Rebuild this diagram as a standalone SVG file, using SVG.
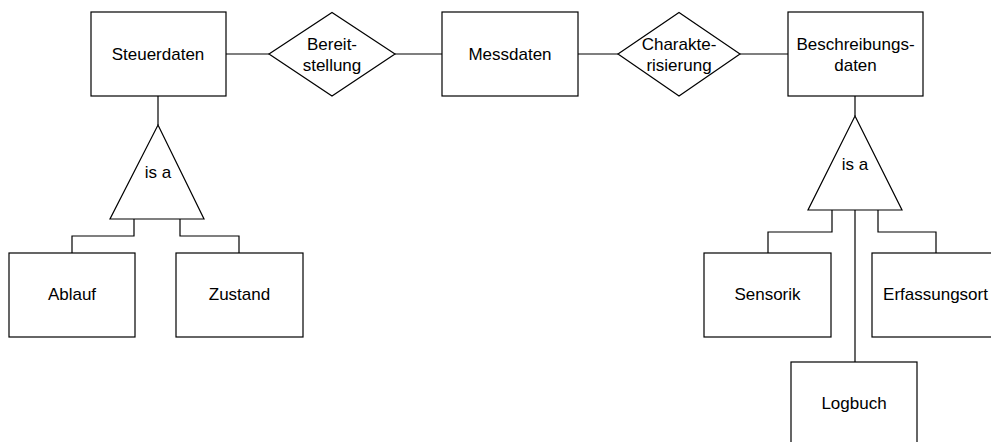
<svg xmlns="http://www.w3.org/2000/svg" width="991" height="442" viewBox="0 0 991 442">
<style>
.box{fill:#fff;stroke:#000;stroke-width:1.2}
.ln{fill:none;stroke:#000;stroke-width:1.2}
text{font-family:"Liberation Sans",Arial,sans-serif;font-size:17px;fill:#000;text-anchor:middle}
</style>
<rect width="991" height="442" fill="#fff"/>
<g id="connectors">
<line class="ln" x1="226" y1="54" x2="269" y2="54"/>
<line class="ln" x1="395" y1="54" x2="442" y2="54"/>
<line class="ln" x1="578" y1="54" x2="618" y2="54"/>
<line class="ln" x1="740" y1="54" x2="788" y2="54"/>
<line class="ln" x1="158" y1="96" x2="158" y2="125"/>
<polyline class="ln" points="134,219 134,236 72,236 72,253"/>
<polyline class="ln" points="180,219 180,236 239,236 239,253"/>
<line class="ln" x1="855" y1="96" x2="855" y2="116"/>
<polyline class="ln" points="832,210 832,232 768,232 768,253"/>
<polyline class="ln" points="878,210 878,232 936,232 936,253"/>
<line class="ln" x1="855" y1="210" x2="855" y2="362"/>
</g>
<g id="steuerdaten"><rect class="box" x="91" y="12" width="135" height="84"/><text x="158" y="60">Steuerdaten</text></g>
<g id="bereitstellung"><polygon class="box" points="269,54 332,12.5 395,54 332,96"/><text x="332" y="50">Bereit-</text><text x="332" y="71">stellung</text></g>
<g id="messdaten"><rect class="box" x="442" y="12" width="136" height="84"/><text x="510" y="60">Messdaten</text></g>
<g id="charakterisierung"><polygon class="box" points="618,54 679,12.5 740,54 679,96"/><text x="679" y="50">Charakte-</text><text x="679" y="71">risierung</text></g>
<g id="beschreibungsdaten"><rect class="box" x="788" y="12" width="135" height="84"/><text x="855.5" y="50">Beschreibungs-</text><text x="855.5" y="71">daten</text></g>
<g id="isa-left"><polygon class="box" points="158,125 204,219 110,219"/><text x="158" y="178">is a</text></g>
<g id="isa-right"><polygon class="box" points="855,116 902,210 808,210"/><text x="855" y="170">is a</text></g>
<g id="ablauf"><rect class="box" x="9" y="253" width="126" height="84"/><text x="72" y="300">Ablauf</text></g>
<g id="zustand"><rect class="box" x="176" y="253" width="127" height="84"/><text x="239.5" y="300">Zustand</text></g>
<g id="sensorik"><rect class="box" x="704" y="253" width="127" height="84"/><text x="767.5" y="300">Sensorik</text></g>
<g id="erfassungsort"><rect class="box" x="872" y="253" width="127" height="84"/><text x="935.5" y="300">Erfassungsort</text></g>
<g id="logbuch"><rect class="box" x="791" y="362" width="126" height="84"/><text x="854" y="409">Logbuch</text></g>
</svg>
